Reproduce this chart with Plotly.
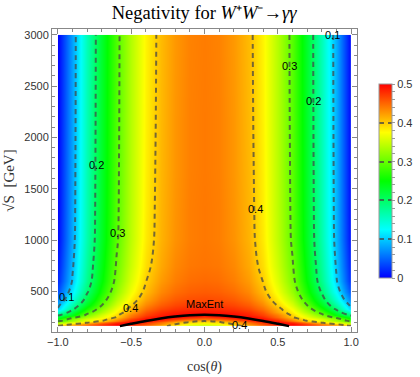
import plotly.graph_objects as go

# grid (the plot is symmetric in cos(theta), so only cos >= 0 is stored)
cos_half = [0.0, 0.1, 0.2, 0.3, 0.4, 0.5, 0.6, 0.7, 0.8, 0.9, 1.0]
sqrt_s = [161, 170, 180, 190, 200, 215, 230, 250, 270, 300, 330,
          370, 420, 500, 600, 750, 1000, 1300, 1700, 2200, 3000]

# negativity, one row per sqrt_s value, columns follow cos_half
negativity_half = [
    [0.335, 0.343, 0.375, 0.420, 0.452, 0.480, 0.499, 0.490, 0.465, 0.440, 0.410],
    [0.350, 0.358, 0.390, 0.420, 0.455, 0.485, 0.498, 0.480, 0.450, 0.420, 0.386],
    [0.365, 0.373, 0.401, 0.432, 0.463, 0.490, 0.495, 0.465, 0.432, 0.402, 0.360],
    [0.380, 0.387, 0.410, 0.440, 0.470, 0.499, 0.485, 0.450, 0.410, 0.370, 0.335],
    [0.390, 0.397, 0.420, 0.450, 0.485, 0.497, 0.468, 0.425, 0.390, 0.355, 0.316],
    [0.405, 0.415, 0.440, 0.470, 0.498, 0.485, 0.440, 0.395, 0.365, 0.330, 0.285],
    [0.445, 0.455, 0.475, 0.497, 0.495, 0.465, 0.420, 0.385, 0.355, 0.318, 0.257],
    [0.475, 0.485, 0.497, 0.497, 0.480, 0.445, 0.400, 0.365, 0.330, 0.283, 0.222],
    [0.499, 0.499, 0.495, 0.485, 0.468, 0.437, 0.393, 0.355, 0.310, 0.240, 0.190],
    [0.490, 0.489, 0.485, 0.476, 0.457, 0.418, 0.380, 0.334, 0.282, 0.218, 0.146],
    [0.482, 0.480, 0.475, 0.465, 0.445, 0.410, 0.370, 0.318, 0.260, 0.191, 0.103],
    [0.473, 0.471, 0.465, 0.454, 0.433, 0.396, 0.355, 0.298, 0.236, 0.166, 0.088],
    [0.464, 0.462, 0.456, 0.444, 0.421, 0.383, 0.340, 0.281, 0.216, 0.143, 0.063],
    [0.455, 0.453, 0.446, 0.433, 0.408, 0.369, 0.323, 0.262, 0.195, 0.120, 0.038],
    [0.448, 0.446, 0.438, 0.424, 0.399, 0.358, 0.310, 0.248, 0.180, 0.103, 0.020],
    [0.443, 0.441, 0.433, 0.417, 0.391, 0.350, 0.303, 0.241, 0.173, 0.096, 0.013],
    [0.441, 0.438, 0.428, 0.412, 0.385, 0.343, 0.295, 0.233, 0.165, 0.088, 0.005],
    [0.441, 0.438, 0.427, 0.411, 0.383, 0.341, 0.293, 0.231, 0.163, 0.086, 0.003],
    [0.440, 0.437, 0.426, 0.410, 0.382, 0.340, 0.292, 0.230, 0.162, 0.085, 0.002],
    [0.440, 0.437, 0.426, 0.409, 0.381, 0.339, 0.291, 0.229, 0.161, 0.084, 0.001],
    [0.439, 0.436, 0.425, 0.408, 0.380, 0.338, 0.290, 0.228, 0.160, 0.083, 0.000],
]

# maximally entangled curve
maxent_cos = [-0.577, -0.5, -0.4, -0.3, -0.2, -0.1, 0.0, 0.1, 0.2, 0.3, 0.4, 0.5, 0.577]
maxent_sqrt_s = [161, 184, 212, 236, 255, 268, 272, 268, 255, 236, 212, 184, 161]

cos_full = [-c for c in cos_half[:0:-1]] + cos_half
z = [row[:0:-1] + row for row in negativity_half]

# Mathematica Hue[2/3 (1-x)]
hue_scale = [
    [0.0, "rgb(0,0,255)"], [0.25, "rgb(0,255,255)"], [0.5, "rgb(0,255,0)"],
    [0.75, "rgb(255,255,0)"], [1.0, "rgb(255,0,0)"],
]

SERIF = "Liberation Serif, Times New Roman, serif"
SANS = "Liberation Sans, Arial, sans-serif"

fig = go.Figure()
fig.add_trace(go.Contour(
    x=cos_full, y=sqrt_s, z=z,
    colorscale=hue_scale, zmin=0, zmax=0.5,
    contours=dict(coloring="heatmap", start=0.1, end=0.4, size=0.1, showlabels=False),
    line=dict(color="rgba(70,70,70,0.75)", width=2, dash="5px,4px", smoothing=1),
    colorbar=dict(
        x=1.072, xanchor="left", xpad=0, thickness=13,
        lenmode="pixels", len=194, y=0.498, yanchor="middle", ypad=0,
        outlinewidth=1, outlinecolor="#999",
        tick0=0, dtick=0.02, ticklabelstep=5, ticks="outside", ticklen=3,
        tickcolor="#999", tickfont=dict(family=SANS, size=11, color="#333"),
    ),
    hoverinfo="skip",
))
fig.add_trace(go.Scatter(
    x=maxent_cos, y=maxent_sqrt_s, mode="lines",
    line=dict(color="black", width=2.5, shape="spline"),
    showlegend=False, hoverinfo="skip",
))

labels = [
    ("0.1", -0.94, 445), ("0.2", -0.737, 1732), ("0.3", -0.59, 1070),
    ("0.4", -0.505, 342), ("0.4", 0.35, 1303), ("0.3", 0.58, 2693),
    ("0.2", 0.74, 2356), ("0.1", 0.87, 2995), ("0.4", 0.238, 171),
    ("MaxEnt", 0.0, 381),
]
for txt, xx, yy in labels:
    fig.add_annotation(x=xx, y=yy, text=txt, showarrow=False,
                       font=dict(family=SANS, size=11, color="black"))

axis_common = dict(
    showline=True, linecolor="#888", linewidth=1, mirror="allticks",
    ticks="inside", ticklen=5, tickcolor="#888", showgrid=False, zeroline=False,
    tickfont=dict(family=SANS, size=11, color="#333"),
)
fig.update_xaxes(
    range=[-1.04, 1.04], tickvals=[-1.0, -0.5, 0.0, 0.5, 1.0], tickformat=".1f",
    minor=dict(dtick=0.1, tick0=0, ticks="inside", ticklen=3, tickcolor="#888"),
    title=dict(text="cos(<i>θ</i>)", font=dict(family=SERIF, size=14, color="#333"), standoff=13),
    **axis_common,
)
fig.update_yaxes(
    range=[104, 3057], tickvals=[500, 1000, 1500, 2000, 2500, 3000],
    minor=dict(dtick=100, tick0=0, ticks="inside", ticklen=3, tickcolor="#888"),
    title=dict(text="√S  [GeV]", font=dict(family=SERIF, size=15, color="#333"), standoff=6),
    **axis_common,
)
fig.update_layout(
    width=420, height=377,
    margin=dict(l=52, r=63, t=29, b=45, autoexpand=False),
    paper_bgcolor="white", plot_bgcolor="white",
    title=dict(text="Negativity for <i>W</i>⁺<i>W</i>⁻→<i>γγ</i>",
               x=0.486, xanchor="center", y=0.968, yanchor="middle",
               font=dict(family=SERIF, size=18.5, color="black")),
    showlegend=False,
)

# the page body has a default 8px margin; drop it so the figure sits at the window corner
fig.write_html("out.html", config={"displayModeBar": False},
               post_script="document.body.style.margin='0';"
                           "document.body.style.overflow='hidden';")
